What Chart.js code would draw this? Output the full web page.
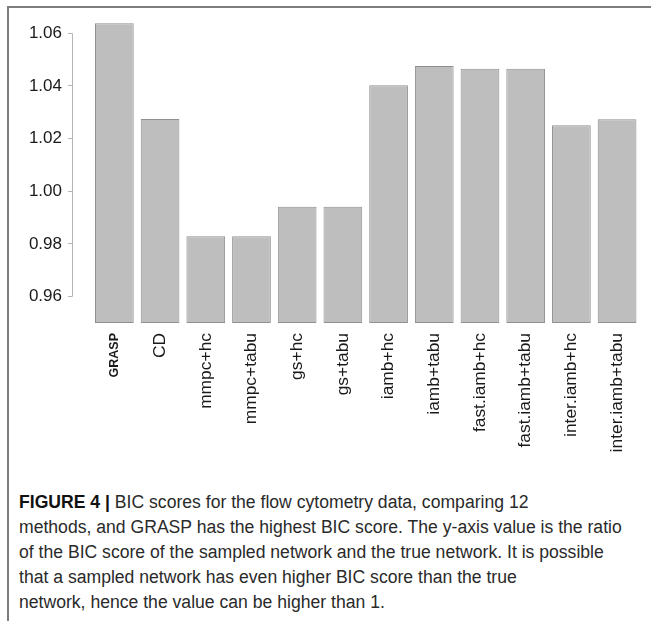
<!DOCTYPE html>
<html>
<head>
<meta charset="utf-8">
<script src="https://cdn.jsdelivr.net/npm/chart.js@4/dist/chart.umd.min.js"></script>
<style>
  html, body { margin: 0; padding: 0; background: #fff; }
  #wrap { position: relative; width: 651px; height: 621px; overflow: hidden; background: #fff; }
  #frame { position: absolute; left: 7px; top: 6px; width: 660px; height: 640px;
           border-top: 2px solid #7d7d7d; border-left: 2px solid #7d7d7d; }
  #chartBox { position: absolute; left: 0; top: 0; width: 651px; height: 470px; }
  #caption { position: absolute; left: 19px; top: 490px; width: 630px;
             font-family: "Liberation Sans", Arial, Helvetica, sans-serif;
             font-size: 17.6px; line-height: 25px; color: #2a2a2a; white-space: nowrap; }
  #caption b { color: #111; }
</style>
</head>
<body>
<div id="wrap">
  <div id="frame"></div>
  <div id="chartBox"><canvas id="c" width="651" height="470"></canvas></div>
  <div id="caption">
    <b>FIGURE 4 |</b> BIC scores for the flow cytometry data, comparing 12<br>
    methods, and GRASP has the highest BIC score. The y-axis value is the ratio<br>
    of the BIC score of the sampled network and the true network. It is possible<br>
    that a sampled network has even higher BIC score than the true<br>
    network, hence the value can be higher than 1.
  </div>
</div>
<script>
const methods = ["GRASP", "CD", "mmpc+hc", "mmpc+tabu", "gs+hc", "gs+tabu",
                 "iamb+hc", "iamb+tabu", "fast.iamb+hc", "fast.iamb+tabu",
                 "inter.iamb+hc", "inter.iamb+tabu"];
const bicRatio = [1.0638, 1.0275, 0.9829, 0.9829, 0.9941, 0.9941,
                  1.0403, 1.0476, 1.0465, 1.0465, 1.0251, 1.0274];
const yTicks = [0.96, 0.98, 1.00, 1.02, 1.04, 1.06];
const yMin = 0.95, yMax = 1.066;

const FONT = "'Liberation Sans', Arial, Helvetica, sans-serif";
const CANVAS_H = 470;

const axisLinePlugin = {
  id: 'axisLine',
  afterDraw(chart) {
    const y = chart.scales.y;
    const ctx = chart.ctx;
    const x = chart.chartArea.left;
    ctx.save();
    ctx.strokeStyle = '#b4b4b4';
    ctx.lineWidth = 1;
    ctx.beginPath();
    ctx.moveTo(x + 0.5, y.getPixelForValue(yTicks[0]));
    ctx.lineTo(x + 0.5, y.getPixelForValue(yTicks[yTicks.length - 1]));
    ctx.stroke();
    ctx.restore();
  }
};

new Chart(document.getElementById('c'), {
  type: 'bar',
  data: {
    datasets: [{
      data: bicRatio.map((v, i) => ({ x: i, y: v })),
      backgroundColor: '#bebebe',
      borderColor: '#8f8f8f',
      borderWidth: 1,
      borderSkipped: false,
      base: yMin,
      categoryPercentage: 1,
      barPercentage: 0.847
    }]
  },
  options: {
    responsive: false,
    animation: false,
    devicePixelRatio: 1,
    layout: { padding: { top: 17.5, left: 0, right: 0, bottom: 0 } },
    plugins: { legend: { display: false }, tooltip: { enabled: false } },
    scales: {
      x: {
        type: 'linear',
        offset: false,
        min: -0.927,
        max: 11.742,
        grid: { display: false, drawTicks: false },
        border: { display: false },
        afterBuildTicks: (s) => { s.ticks = methods.map((m, i) => ({ value: i })); },
        afterFit: (s) => { s.height = CANVAS_H - 323; s.paddingLeft = 0; s.paddingRight = 0; },
        ticks: {
          autoSkip: false,
          minRotation: 90,
          maxRotation: 90,
          padding: 10,
          color: '#1a1a1a',
          font: (ctx) => ctx.index === 0
            ? { family: FONT, size: 12.5, weight: 'bold' }
            : { family: FONT, size: 17.4 },
          callback: (v, i) => methods[i]
        }
      },
      y: {
        min: yMin,
        max: yMax,
        grid: { drawOnChartArea: false, tickLength: 4, color: '#b4b4b4', lineWidth: 1 },
        border: { display: false },
        afterBuildTicks: (s) => { s.ticks = yTicks.map(v => ({ value: v })); },
        afterFit: (s) => { s.width = 72; },
        ticks: {
          padding: 6,
          color: '#1a1a1a',
          font: { family: FONT, size: 17 },
          callback: (v) => Number(v).toFixed(2)
        }
      }
    }
  },
  plugins: [axisLinePlugin]
});
</script>
</body>
</html>
